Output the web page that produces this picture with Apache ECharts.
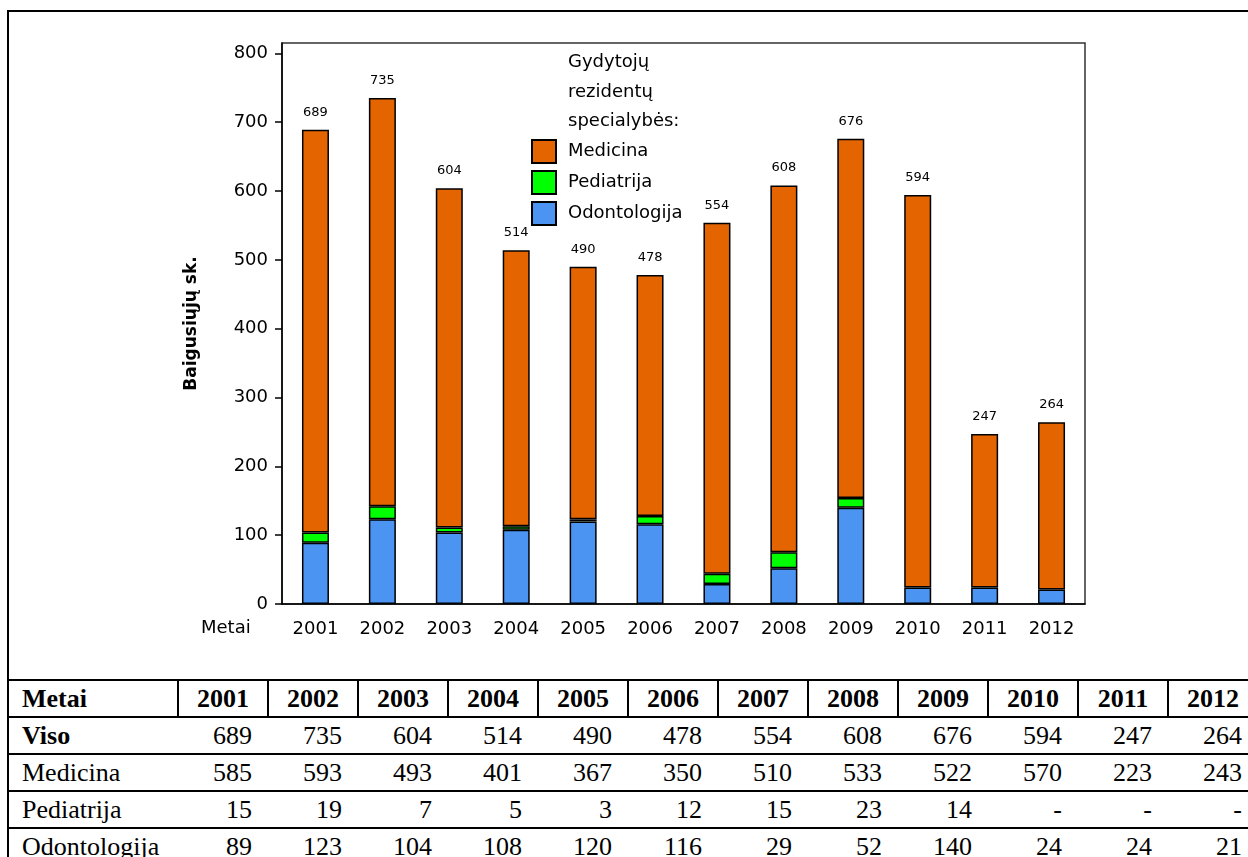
<!DOCTYPE html>
<html>
<head>
<meta charset="utf-8">
<script src="https://cdn.jsdelivr.net/npm/echarts@6/dist/echarts.min.js"></script>
<style>
  html, body { margin: 0; padding: 0; background: #fff; overflow: hidden; width: 1248px; height: 857px; }
  #frame { position: absolute; left: 7px; top: 10px; width: 1400px; height: 670px; border-left: 2px solid #000; border-top: 2px solid #000; }
  #main { position: absolute; left: 0; top: 0; width: 1248px; height: 678px; }
  #tbl { position: absolute; left: 7px; top: 679px; border-collapse: collapse; table-layout: fixed; width: 1252px;
         font-family: "Liberation Serif", serif; font-size: 26px; color: #000; }
  #tbl td { height: 35px; padding: 0 16px 0 0; text-align: right; border-top: 2px solid #000; border-bottom: 2px solid #000; white-space: nowrap; overflow: hidden; }
  #tbl td.lbl { text-align: left; padding-left: 13px; border-left: 2px solid #000; }
  #tbl tr.hd td { font-weight: bold; text-align: center; padding: 0; border: 2px solid #000; }
  #tbl tr.hd td.lbl { text-align: left; padding-left: 13px; }
  #tbl tr.b td.lbl { font-weight: bold; }
</style>
</head>
<body>
<div id="frame"></div>
<div id="main"></div>
<table id="tbl"></table>
<script>
// duomenys
const metai = ['2001','2002','2003','2004','2005','2006','2007','2008','2009','2010','2011','2012'];
const viso = [689, 735, 604, 514, 490, 478, 554, 608, 676, 594, 247, 264];
const medicina = [585, 593, 493, 401, 367, 350, 510, 533, 522, 570, 223, 243];
const pediatrija = [15, 19, 7, 5, 3, 12, 15, 23, 14, '-', '-', '-'];
const odontologija = [89, 123, 104, 108, 120, 116, 29, 52, 140, 24, 24, 21];
const yTicks = [0, 100, 200, 300, 400, 500, 600, 700, 800];

const font = 'DejaVu Sans';
const colors = { med: '#E46400', ped: '#00FF00', odo: '#4B94F2' };

var myChart = echarts.init(document.getElementById('main'));

var option = {
  animation: false,
  title: {
    text: 'Gydytojų\nrezidentų\nspecialybės:',
    left: 568, top: 48, padding: 0,
    textStyle: { fontFamily: font, fontSize: 18, fontWeight: 'normal', color: '#000', lineHeight: 29.5 }
  },
  legend: {
    orient: 'vertical',
    left: 531, top: 139, padding: 0,
    icon: 'rect',
    itemWidth: 24, itemHeight: 23, itemGap: 6,
    data: ['Medicina', 'Pediatrija', 'Odontologija'],
    textStyle: { fontFamily: font, fontSize: 18, color: '#000', padding: [0, 0, 0, 7] }
  },
  grid: {
    left: 282, top: 43, width: 803, height: 561,
    show: true, borderColor: '#333', borderWidth: 1.5, backgroundColor: 'transparent'
  },
  graphic: [
    { type: 'text', left: 201, top: 619, style: { text: 'Metai', font: '18px "DejaVu Sans"', fill: '#000' } }
  ],
  xAxis: {
    type: 'category',
    data: metai,
    axisLine: { lineStyle: { color: '#000', width: 1.5 } },
    axisTick: { alignWithLabel: true, length: 6, lineStyle: { color: '#000', width: 1.5 } },
    axisLabel: { fontFamily: font, fontSize: 18, color: '#000', margin: 16 }
  },
  yAxis: {
    type: 'value',
    min: 0, max: 815, interval: 100,
    name: 'Baigusiųjų sk.',
    nameLocation: 'middle', nameGap: 82, nameRotate: 90,
    nameTextStyle: { fontFamily: font, fontSize: 17, fontWeight: 'bold', color: '#000' },
    axisLine: { show: true, lineStyle: { color: '#000', width: 1.5 } },
    axisTick: { show: true, length: 7, customValues: yTicks, lineStyle: { color: '#000', width: 1.5 } },
    axisLabel: { fontFamily: font, fontSize: 18, color: '#000', margin: 14, customValues: yTicks },
    splitLine: { show: false }
  },
  series: [
    {
      name: 'Odontologija', type: 'bar', stack: 'v', barWidth: 27,
      data: odontologija,
      itemStyle: { color: colors.odo, borderColor: '#000', borderWidth: 1.5 }
    },
    {
      name: 'Pediatrija', type: 'bar', stack: 'v', barWidth: 27,
      data: pediatrija,
      itemStyle: { color: colors.ped, borderColor: '#000', borderWidth: 1.5 }
    },
    {
      name: 'Medicina', type: 'bar', stack: 'v', barWidth: 27,
      data: medicina,
      itemStyle: { color: colors.med, borderColor: '#000', borderWidth: 1.5 },
      label: {
        show: true, position: 'top', distance: 11,
        fontFamily: font, fontSize: 13, color: '#000',
        formatter: function (p) { return viso[p.dataIndex]; }
      }
    }
  ]
};
myChart.setOption(option);

// lentelė po grafiku
var rows = [
  ['Viso', viso, 'b'],
  ['Medicina', medicina, ''],
  ['Pediatrija', pediatrija, ''],
  ['Odontologija', odontologija, '']
];
var html = '<colgroup><col style="width:170px">';
metai.forEach(function () { html += '<col style="width:90px">'; });
html += '</colgroup><tr class="hd"><td class="lbl">Metai</td>';
metai.forEach(function (m) { html += '<td>' + m + '</td>'; });
html += '</tr>';
rows.forEach(function (r) {
  html += '<tr class="' + r[2] + '"><td class="lbl">' + r[0] + '</td>';
  r[1].forEach(function (v) { html += '<td>' + v + '</td>'; });
  html += '</tr>';
});
document.getElementById('tbl').innerHTML = html;
</script>
</body>
</html>
